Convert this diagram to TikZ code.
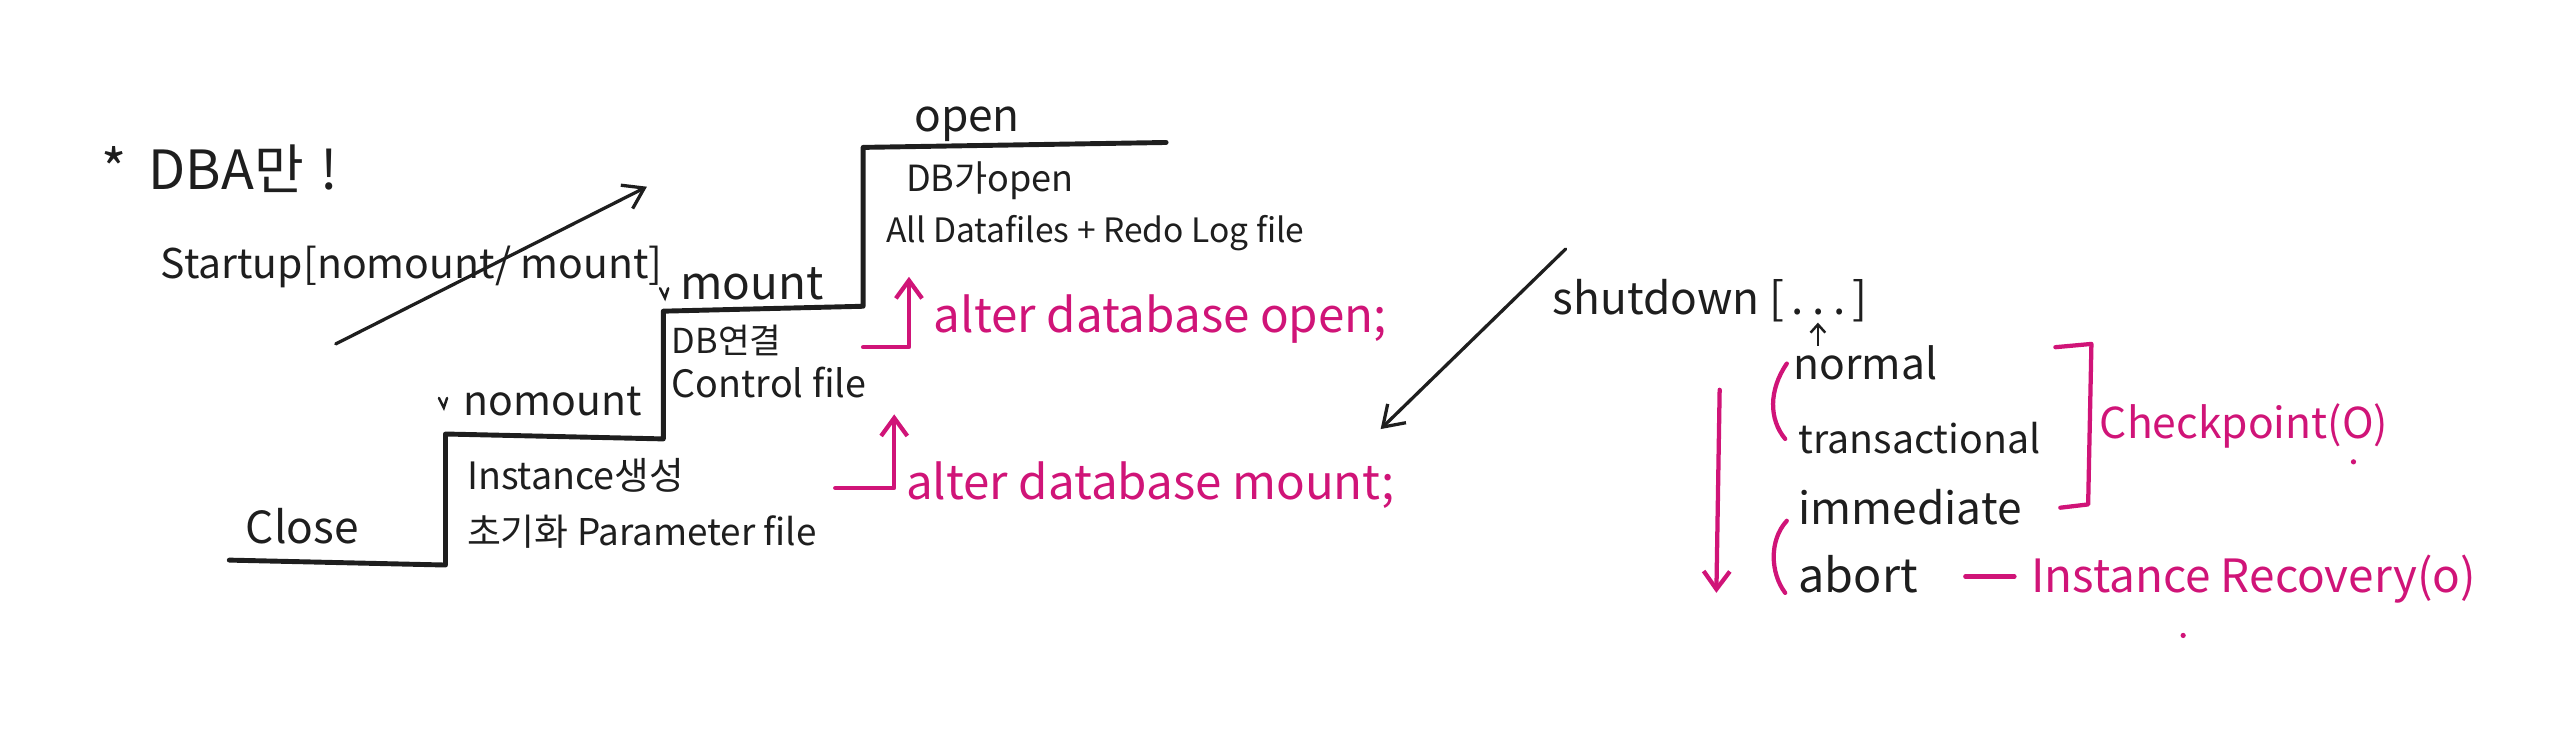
\documentclass[tikz,border=0pt]{standalone}
\usepackage{fontspec}
\setmainfont{Noto Sans CJK KR}
\usetikzlibrary{arrows.meta}
\definecolor{mag}{RGB}{208,20,120}
\definecolor{ink}{RGB}{30,30,30}
\tikzset{
  txt/.style={anchor=base west,inner sep=0pt,text=ink,font=\fontsize{#1}{#1}\selectfont},
  mtxt/.style={anchor=base west,inner sep=0pt,text=mag,font=\fontsize{#1}{#1}\selectfont},
  stair/.style={draw=ink,line width=3pt,line join=round,line cap=round},
  inkarrow/.style={draw=ink,line width=2pt,line cap=round,-{Straight Barb[length=12pt,width=16pt,line width=2pt]}},
  magline/.style={draw=mag,line width=2.6pt,line cap=round,line join=round},
  magarrow/.style={magline,-{Straight Barb[length=11pt,width=16pt,line width=2.6pt]}},
  tick/.style={draw=ink,line width=1.5pt,line cap=round}
}
\begin{document}
\begin{tikzpicture}[x=1pt,y=-1pt]
\useasboundingbox (0,0) rectangle (1568,454);
% header
\node[txt=33] (dba) at (62,116) {*\hspace{0.4em}DBA만\hspace{0.3em}!};
\node[txt=25] (startup) at (98,170) {Startup[nomount/ mount]};
\coordinate (sa) at (205,210);
\coordinate (sb) at (395,114);
\draw[inkarrow] (sa) -- (sb);
% stairs
\coordinate (c0) at (140,342);
\coordinate (c1) at (272,345);
\coordinate (c2) at (272,265);
\coordinate (c3) at (405,268);
\coordinate (c4) at (405,190);
\coordinate (c5) at (527,187);
\coordinate (c6) at (527,90);
\coordinate (c7) at (712,87);
\draw[stair] (c0) -- (c1) -- (c2) -- (c3) -- (c4) -- (c5) -- (c6) -- (c7);
% check marks
\draw[tick] (268,243) -- (271,249) -- (273,243);
\draw[tick] (403,176) -- (406,182) -- (408,176);
% labels of states
\node[txt=27] (close) at (150,332) {Close};
\node[txt=25] (nomount) at (283,254) {nomount};
\node[txt=28] (mount) at (415,183) {mount};
\node[txt=27] (open) at (558,80) {open};
\node[txt=23] (inst) at (285,299) {Instance생성};
\node[txt=22.5] (param) at (285,333) {초기화 Parameter file};
\node[txt=21] (dbcon) at (410,216) {DB연결};
\node[txt=23] (ctrl) at (410,243) {Control file};
\node[txt=22] (dbopen) at (553,117) {DB가open};
\node[txt=20.5] (datafiles) at (541,148) {All Datafiles + Redo Log file};
% alter commands
\node[mtxt=29] (altopen) at (570,203) {alter database open;};
\node[mtxt=29] (altmount) at (553,305) {alter database mount;};
\coordinate (oa) at (527,212);
\coordinate (ob) at (555,212);
\coordinate (oc) at (555,169);
\draw[magarrow] (oa) -- (ob) -- (oc);
\coordinate (ma) at (510,298);
\coordinate (mb) at (546,298);
\coordinate (mc) at (546,253);
\draw[magarrow] (ma) -- (mb) -- (mc);
% shutdown
\coordinate (da) at (956,152);
\coordinate (db) at (843,262);
\draw[inkarrow] (da) -- (db);
\node[txt=27] (shut) at (948,192) {shutdown [\hspace{0.15em}.\hspace{0.2em}.\hspace{0.2em}.\hspace{0.15em}]};
\node[txt=26] (normal) at (1095,232) {normal};
\node[txt=24] (trans) at (1098,277) {transactional};
\node[txt=27] (immed) at (1098,320) {immediate};
\node[txt=28.5] (abort) at (1098,362) {abort};
\coordinate (ua) at (1110,211);
\coordinate (ub) at (1110,197);
\draw[draw=ink,line width=1.5pt,-{Straight Barb[length=5pt,width=9pt,line width=1.5pt]}] (ua) -- (ub);
% magenta marks
\draw[magline] (1091,222) .. controls (1080,238) and (1080,256) .. (1090,268);
\draw[magline] (1091,318) .. controls (1080,330) and (1081,350) .. (1090,362);
\coordinate (la) at (1050,238);
\coordinate (lb) at (1048,362);
\draw[magarrow] (la) -- (lb);
\draw[magline] (1255,212) -- (1277,210) -- (1275,308) -- (1258,310);
\node[mtxt=26] (chk) at (1282,268) {Checkpoint(O)};
\coordinate (qa) at (1200,352);
\coordinate (qb) at (1230,352);
\draw[magline] (qa) -- (qb);
\node[mtxt=28] (rec) at (1240,362) {Instance Recovery(o)};
\fill[mag] (1437,282) circle (1.6);
\fill[mag] (1333,388) circle (1.6);
\end{tikzpicture}
\end{document}
